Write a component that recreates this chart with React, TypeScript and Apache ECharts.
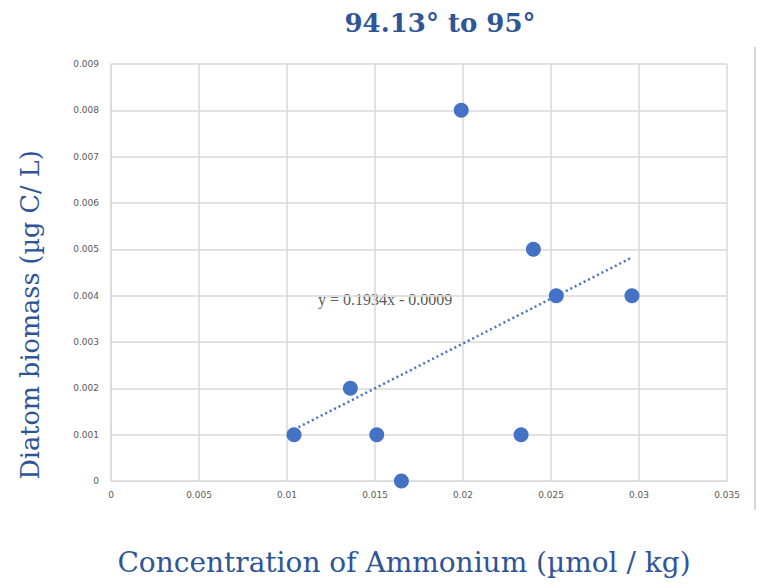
import React, { useEffect, useRef } from "react";
import * as echarts from "echarts";

const xValues = [0.0104, 0.0136, 0.0151, 0.0165, 0.0199, 0.0233, 0.024, 0.0253, 0.0296];
const yValues = [0.001, 0.002, 0.001, 0.0, 0.008, 0.001, 0.005, 0.004, 0.004];
const slope = 0.1934;
const intercept = -0.0009;
const trendX = [0.0104, 0.0296];
const titleText = "94.13° to 95°";
const xName = "Concentration of Ammonium (µmol / kg)";
const yName = "Diatom biomass (µg C/ L)";
const eqText = "y = 0.1934x - 0.0009";

export default function App() {
  const ref = useRef<HTMLDivElement>(null);
  useEffect(() => {
    const chart = echarts.init(ref.current!, null, { renderer: "svg" });
    const points = xValues.map((x, i) => [x, yValues[i]]);
    const trend = trendX.map((x) => [x, slope * x + intercept]);
    const blue = "#2F5597";
    chart.setOption({
      animation: false,
      backgroundColor: "#ffffff",
      title: {
        text: titleText,
        left: 435,
        top: 5,
        textAlign: "center",
        textStyle: { fontFamily: "DejaVu Serif", fontWeight: "bold", fontSize: 26, color: blue },
      },
      grid: { left: 111, right: 33, top: 64, bottom: 104 },
      xAxis: {
        type: "value",
        min: 0,
        max: 0.035,
        interval: 0.005,
        axisLine: { show: true, lineStyle: { color: "#d9d9d9" } },
        axisTick: { show: false },
        axisLabel: { color: "#595959", fontSize: 9, fontFamily: "DejaVu Sans", margin: 9 },
        splitLine: { show: true, lineStyle: { color: "#d9d9d9", width: 1.5 } },
      },
      yAxis: {
        type: "value",
        min: 0,
        max: 0.009,
        interval: 0.001,
        axisLine: { show: true, lineStyle: { color: "#d9d9d9" } },
        axisTick: { show: false },
        axisLabel: { color: "#595959", fontSize: 9, fontFamily: "DejaVu Sans", margin: 12 },
        splitLine: { show: true, lineStyle: { color: "#d9d9d9", width: 1.5 } },
      },
      graphic: [
        {
          type: "text",
          x: 404,
          y: 562,
          style: {
            text: xName,
            fontFamily: "DejaVu Serif",
            fontSize: 28,
            fill: blue,
            align: "center",
            verticalAlign: "middle",
          },
        },
        {
          type: "text",
          x: 30,
          y: 315,
          rotation: Math.PI / 2,
          style: {
            text: yName,
            fontFamily: "DejaVu Serif",
            fontSize: 25.5,
            fill: blue,
            align: "center",
            verticalAlign: "middle",
          },
        },
        {
          type: "text",
          left: 318,
          top: 291,
          style: { text: eqText, fontFamily: "Liberation Serif", fontSize: 16, fill: "#595959" },
        },
        {
          type: "line",
          shape: { x1: 755, y1: 47, x2: 755, y2: 510 },
          style: { stroke: "#c8c8c8", lineWidth: 1.5 },
        },
      ],
      series: [
        {
          type: "line",
          data: trend,
          symbol: "none",
          lineStyle: { color: "#4472C4", width: 2.5, type: [2, 3] },
          z: 2,
        },
        {
          type: "scatter",
          data: points,
          symbolSize: 15,
          itemStyle: { color: "#4472C4", opacity: 1 },
          z: 3,
        },
      ],
    });
    return () => chart.dispose();
  }, []);
  return <div ref={ref} style={{ width: 760, height: 585, position: "absolute", left: 0, top: 0 }} />;
}
